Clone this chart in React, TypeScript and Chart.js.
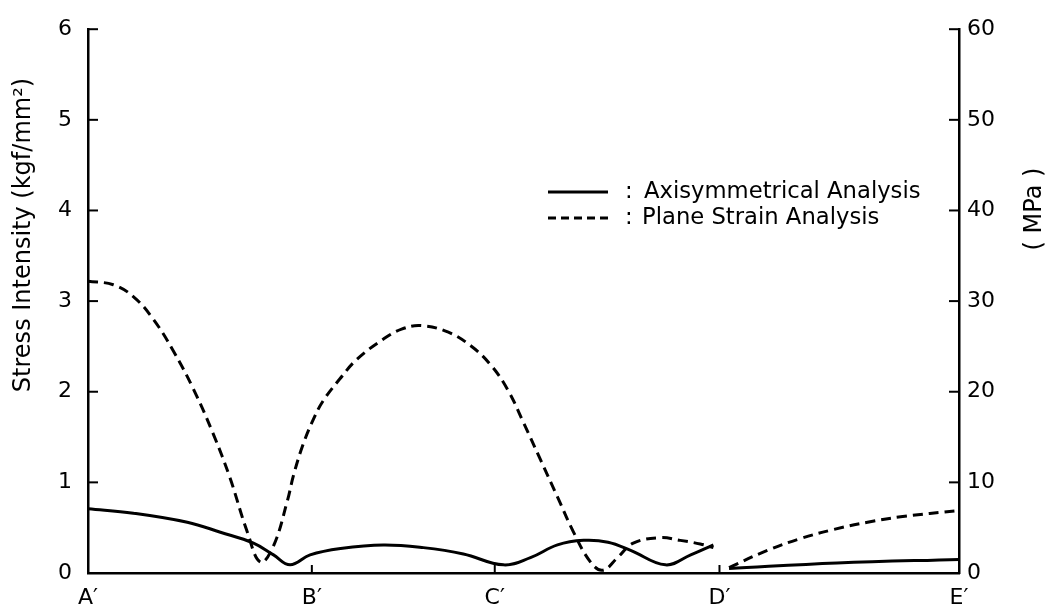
import { useEffect, useRef } from "react";
import { Chart, registerables } from "chart.js";

Chart.register(...registerables);

// Position along the section path (A' = 0 ... E' = 100)
const xTickPositions = [0, 25.7, 46.7, 72.5, 100];
const xTickLabels = ["A′", "B′", "C′", "D′", "E′"];

// Axisymmetrical analysis (solid) – kgf/mm²
const axiX1 = [0, 5.2, 11.4, 15.2, 19.0, 21.3, 23.2, 25.5, 29.0, 33.9, 38.5, 43.1, 47.7, 50.8, 53.9, 56.9, 59.7, 62.3, 66.3, 69.2, 71.8];
const axiY1 = [0.71, 0.66, 0.56, 0.45, 0.33, 0.2, 0.09, 0.2, 0.27, 0.31, 0.28, 0.21, 0.09, 0.17, 0.31, 0.36, 0.34, 0.25, 0.09, 0.2, 0.31];
const axiX2 = [73.6, 86.0, 100];
const axiY2 = [0.05, 0.11, 0.15];

// Plane strain analysis (dashed) – kgf/mm²
const psX1 = [0, 2.9, 5.2, 7.5, 9.8, 12.1, 14.4, 16.3, 18.3, 19.8, 21.3, 22.9, 23.6, 24.7, 25.9, 27.0, 28.9, 30.9, 33.9, 36.0, 38.2, 41.3, 43.9, 46.2, 48.2, 50.0, 52.0, 53.9, 55.7, 57.7, 59.1, 60.8, 62.6, 65.7, 68.0, 70.3, 71.8];
const psY1 = [3.22, 3.18, 3.05, 2.8, 2.45, 2.03, 1.53, 1.05, 0.45, 0.12, 0.3, 0.8, 1.08, 1.42, 1.7, 1.9, 2.14, 2.36, 2.58, 2.69, 2.73, 2.66, 2.51, 2.3, 2.02, 1.66, 1.24, 0.84, 0.46, 0.12, 0.03, 0.17, 0.33, 0.39, 0.36, 0.32, 0.28];
const psX2 = [73.6, 78.0, 81.8, 85.6, 89.5, 93.3, 100];
const psY2 = [0.06, 0.25, 0.38, 0.48, 0.56, 0.62, 0.69];

const leftAxisTitle = "Stress Intensity (kgf/mm²)";
const rightAxisTitle = "( MPa )";
const legendLabels = ["Axisymmetrical Analysis", "Plane Strain Analysis"];

const FONT = "'DejaVu Sans', sans-serif";

const toPoints = (xs: number[], ys: number[]) => xs.map((x, i) => ({ x, y: ys[i] }));

const decorPlugin = {
  id: "decor",
  afterDraw(chart: any) {
    const { ctx, chartArea, scales } = chart;
    const line = (x1: number, y1: number, x2: number, y2: number) => {
      ctx.beginPath();
      ctx.moveTo(x1, y1);
      ctx.lineTo(x2, y2);
      ctx.stroke();
    };
    ctx.save();
    ctx.strokeStyle = "#000";
    ctx.fillStyle = "#000";
    ctx.lineWidth = 2;
    // inward tick marks
    scales.y.ticks.forEach((t: any) => {
      if (t.value === 0) return;
      const py = scales.y.getPixelForValue(t.value);
      line(chartArea.left, py, chartArea.left + 10, py);
    });
    scales.y2.ticks.forEach((t: any) => {
      if (t.value === 0) return;
      const py = scales.y2.getPixelForValue(t.value);
      line(chartArea.right - 10, py, chartArea.right, py);
    });
    scales.x.ticks.forEach((t: any, i: number) => {
      if (i === 0 || i === scales.x.ticks.length - 1) return;
      const px = scales.x.getPixelForValue(t.value);
      line(px, chartArea.bottom, px, chartArea.bottom - 8);
    });

    // axis titles
    ctx.font = `24px ${FONT}`;
    ctx.textAlign = "center";
    ctx.textBaseline = "middle";
    ctx.save();
    ctx.translate(24, 235);
    ctx.rotate(-Math.PI / 2);
    ctx.fillText(leftAxisTitle, 0, 0);
    ctx.restore();
    ctx.save();
    ctx.translate(1035, 209);
    ctx.rotate(-Math.PI / 2);
    ctx.fillText(rightAxisTitle, 0, 0);
    ctx.restore();

    // legend
    ctx.lineWidth = 3;
    ctx.setLineDash([]);
    line(548, 192, 608, 192);
    ctx.setLineDash([8, 5]);
    line(548, 218, 608, 218);
    ctx.setLineDash([]);
    ctx.font = `22.7px ${FONT}`;
    ctx.textAlign = "left";
    ctx.fillText(":", 625, 192);
    ctx.fillText(legendLabels[0], 644, 192);
    ctx.fillText(":", 625, 218);
    ctx.fillText(legendLabels[1], 642, 218);
    ctx.restore();
  },
};

export default function App() {
  const ref = useRef<HTMLCanvasElement>(null);
  useEffect(() => {
    if (!ref.current) return;
    const lineStyle = {
      borderColor: "#000",
      backgroundColor: "#000",
      borderWidth: 3,
      pointRadius: 0,
      fill: false,
      tension: 0.4,
    };
    const dash = [10, 6];
    const chart = new Chart(ref.current, {
      type: "line",
      data: {
        datasets: [
          { ...lineStyle, label: legendLabels[1], data: toPoints(psX1, psY1), borderDash: dash, yAxisID: "y" },
          { ...lineStyle, label: legendLabels[1] + " (D′–E′)", data: toPoints(psX2, psY2), borderDash: dash, yAxisID: "y" },
          { ...lineStyle, label: legendLabels[0], data: toPoints(axiX1, axiY1), yAxisID: "y" },
          { ...lineStyle, label: legendLabels[0] + " (D′–E′)", data: toPoints(axiX2, axiY2), yAxisID: "y" },
        ],
      },
      options: {
        responsive: false,
        animation: false,
        layout: { padding: { top: 25, left: 0, right: 0, bottom: 0 } },
        plugins: { legend: { display: false }, tooltip: { enabled: false } },
        scales: {
          x: {
            type: "linear",
            min: 0,
            max: 100,
            grid: { display: false, drawTicks: false },
            border: { display: true, color: "#000", width: 2.5 },
            afterBuildTicks: (scale: any) => {
              scale.ticks = xTickPositions.map((v) => ({ value: v }));
            },
            afterFit: (scale: any) => {
              scale.height = 40;
            },
            ticks: {
              autoSkip: false,
              maxRotation: 0,
              padding: 12,
              color: "#000",
              font: { family: FONT, size: 22 },
              callback: (_v: any, i: number) => xTickLabels[i],
            },
          },
          y: {
            position: "left",
            min: 0,
            max: 6,
            grid: { display: false, drawTicks: false },
            border: { display: true, color: "#000", width: 2.5 },
            afterFit: (scale: any) => {
              scale.width = 88;
            },
            ticks: { stepSize: 1, padding: 16, color: "#000", font: { family: FONT, size: 22 } },
          },
          y2: {
            position: "right",
            min: 0,
            max: 60,
            grid: { display: false, drawTicks: false },
            border: { display: true, color: "#000", width: 2.5 },
            afterFit: (scale: any) => {
              scale.width = 95;
            },
            ticks: { stepSize: 10, padding: 8, color: "#000", font: { family: FONT, size: 22 } },
          },
        },
      },
      plugins: [decorPlugin],
    });
    return () => chart.destroy();
  }, []);
  return (
    <div style={{ position: "fixed", left: 0, top: 0, width: 1054, height: 613, background: "#fff" }}>
      <canvas ref={ref} width={1054} height={613} style={{ display: "block" }} />
    </div>
  );
}
